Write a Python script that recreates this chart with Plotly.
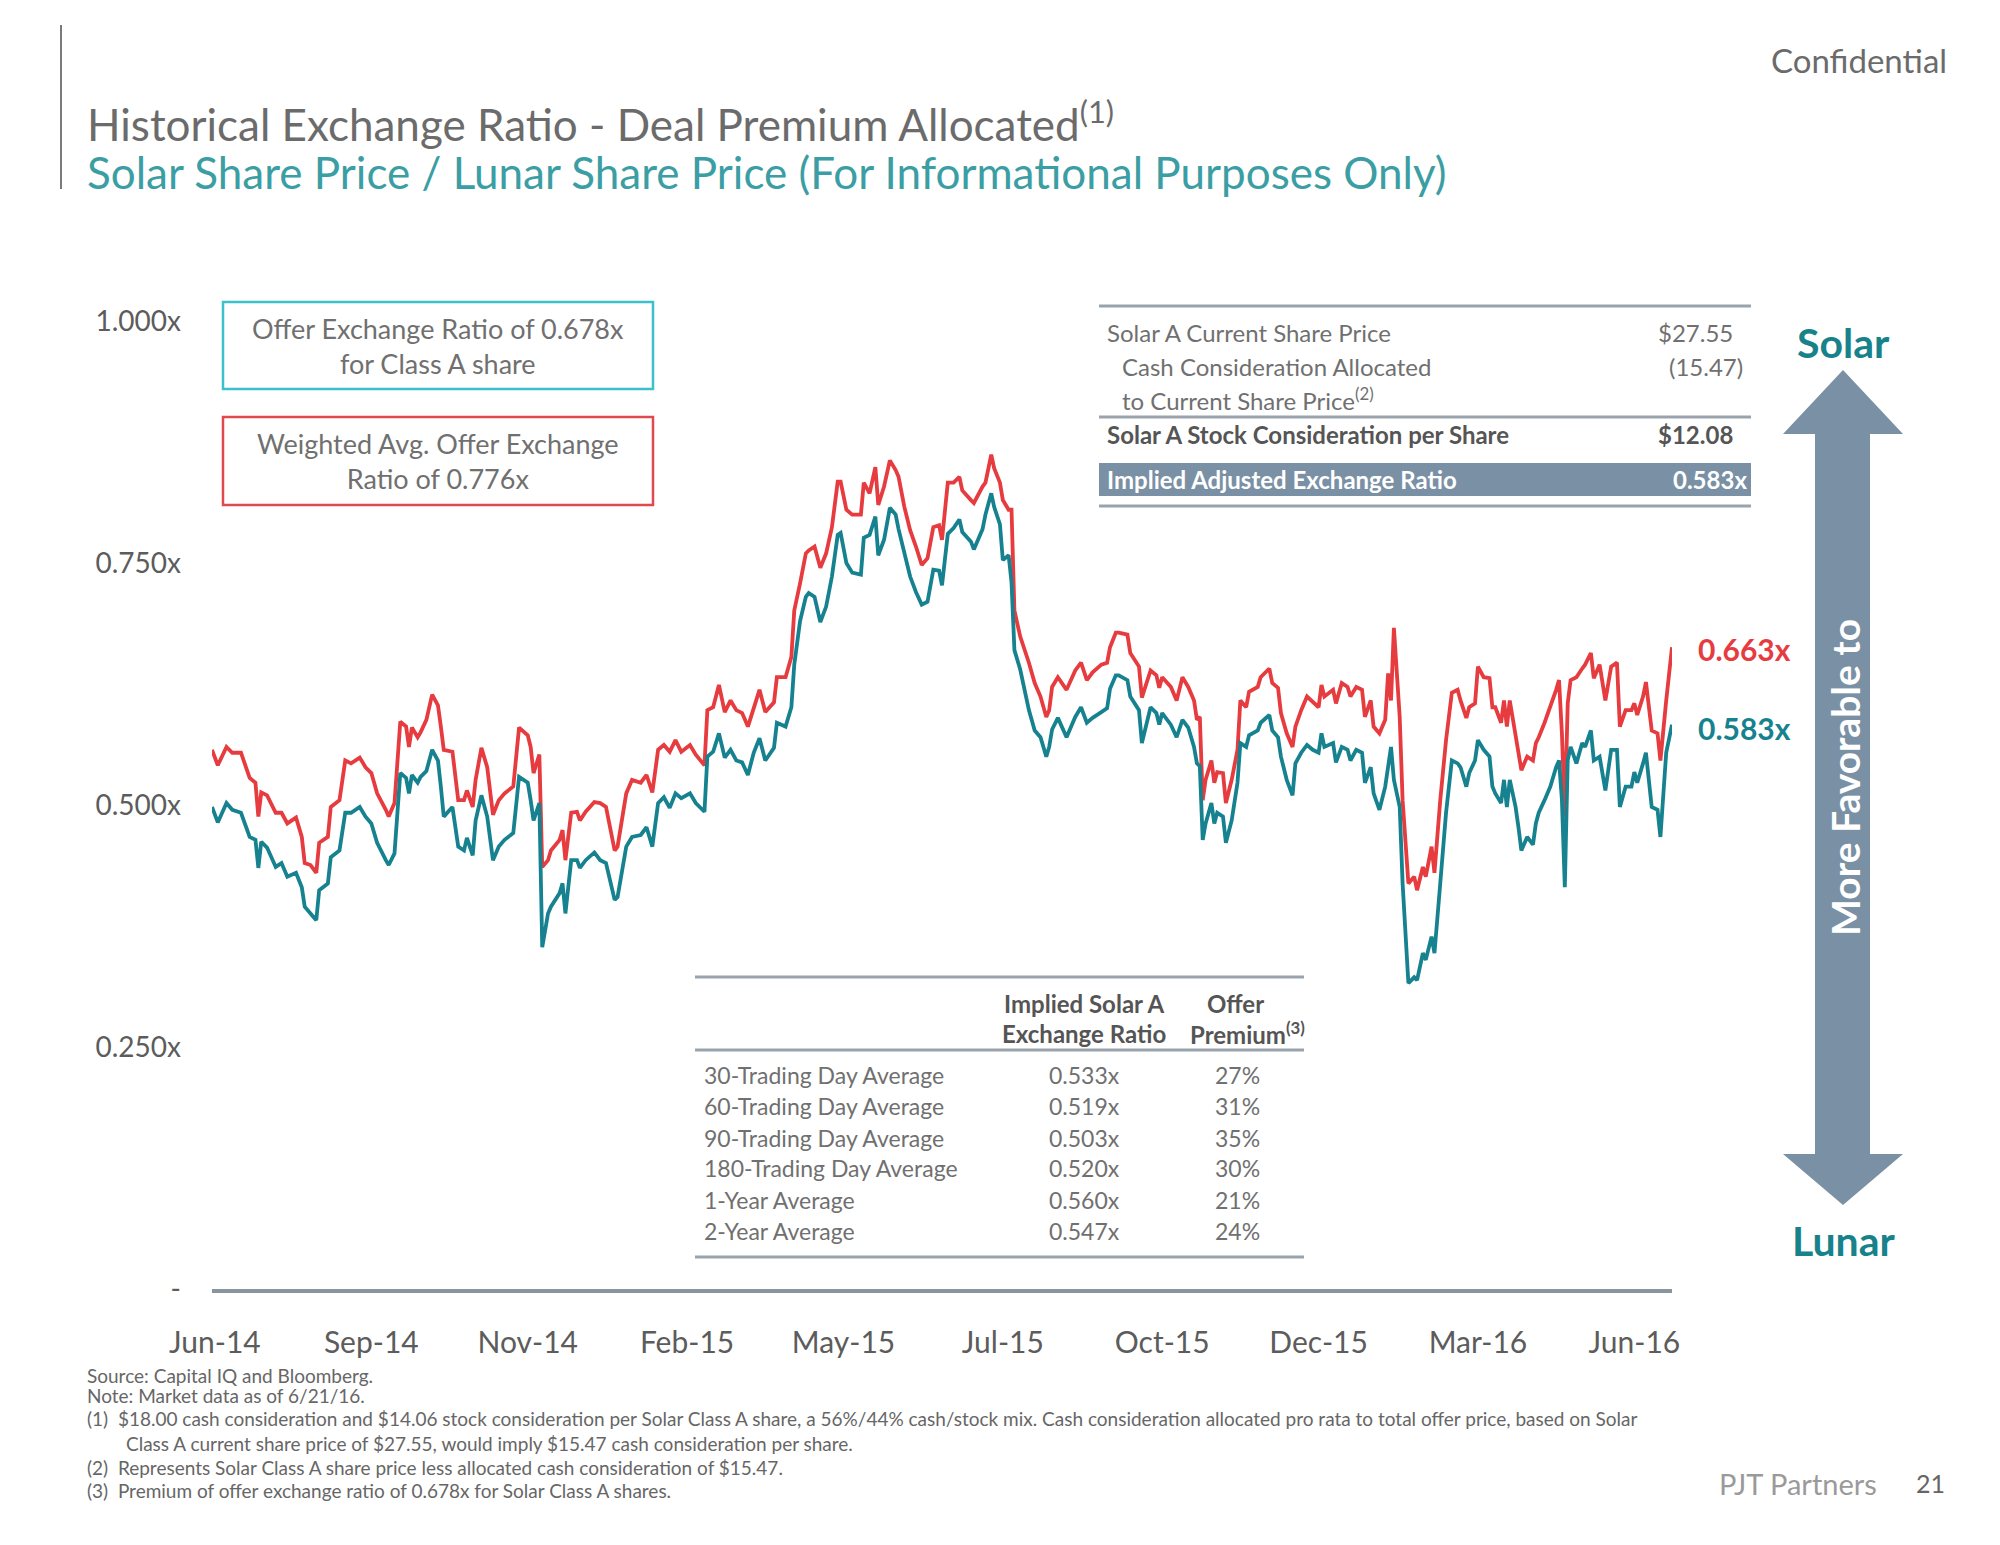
import plotly.graph_objects as go

# ---------------- data ----------------
day = [0, 2, 5, 7, 10, 13, 15, 16, 17, 19, 22, 24, 26, 29, 31, 32, 34, 36, 37, 40,
       41, 44, 46, 48, 51, 53, 55, 57, 60, 61, 63, 65, 67, 68, 69, 71, 72, 74, 76, 78,
       79, 80, 83, 85, 87, 88, 90, 91, 93, 95, 97, 99, 101, 104, 106, 109, 110, 111, 113, 114,
       116, 117, 120, 121, 122, 124, 126, 127, 129, 132, 134, 136, 139, 140, 143, 145, 148, 150, 152, 154,
       156, 158, 160, 162, 165, 167, 170, 171, 173, 175, 177, 179, 181, 183, 185, 187, 189, 191, 194, 195,
       198, 200, 201, 203, 205, 206, 208, 210, 212, 214, 216, 217, 219, 221, 224, 225, 227, 229, 230, 232,
       234, 236, 237, 239, 241, 243, 245, 247, 249, 251, 252, 254, 256, 258, 259, 262, 263, 266, 267, 269,
       270, 272, 273, 275, 276, 277, 279, 282, 284, 286, 288, 289, 290, 292, 295, 298, 300, 302, 304, 307,
       309, 310, 312, 313, 316, 317, 320, 321, 324, 326, 327, 328, 331, 333, 335, 337, 339, 340, 341, 342,
       343, 345, 346, 347, 349, 350, 352, 354, 355, 357, 358, 361, 362, 365, 366, 368, 369, 371, 373, 374,
       376, 378, 380, 382, 383, 384, 387, 388, 390, 392, 393, 395, 397, 398, 400, 401, 403, 405, 406, 407,
       408, 410, 411, 413, 415, 416, 418, 419, 421, 422, 424, 426, 428, 430, 431, 433, 434, 436, 437, 439,
       441, 442, 443, 445, 446, 447, 448, 450, 451, 452, 454, 456, 457, 458, 460, 462, 464, 465, 466, 467,
       468, 469, 471, 473, 474, 476, 477, 479, 481, 483, 485, 486, 488, 490, 491, 492, 494, 495, 497, 499,
       500, 502, 504]

premium_allocated = [
    .557, .541, .560, .554, .554, .528, .523, .488, .513, .510, .492, .492, .481, .487, .467, .440, .438, .430, .461, .467,
    .498, .505, .546, .543, .549, .539, .533, .512, .495, .488, .502, .586, .581, .560, .580, .570, .575, .588, .614, .603,
    .581, .557, .555, .505, .505, .515, .498, .526, .559, .539, .490, .505, .512, .519, .580, .572, .560, .533, .552, .436,
    .443, .453, .464, .474, .443, .492, .493, .484, .493, .503, .502, .498, .453, .457, .512, .526, .523, .531, .513, .557,
    .562, .555, .567, .555, .562, .552, .541, .598, .601, .624, .596, .608, .598, .595, .581, .601, .619, .596, .606, .632,
    .632, .653, .701, .729, .760, .763, .767, .745, .760, .787, .834, .834, .805, .800, .800, .833, .822, .849, .810, .829,
    .856, .846, .839, .808, .784, .767, .748, .755, .787, .789, .774, .833, .833, .839, .825, .815, .812, .829, .833, .862,
    .848, .833, .815, .805, .805, .701, .674, .647, .626, .612, .591, .598, .622, .632, .619, .639, .647, .629, .637, .645,
    .647, .663, .678, .678, .676, .657, .643, .611, .639, .634, .621, .632, .622, .608, .632, .622, .608, .588, .591, .505,
    .526, .546, .523, .534, .533, .502, .526, .557, .608, .601, .617, .622, .632, .641, .626, .621, .595, .574, .560, .581,
    .598, .612, .606, .601, .624, .612, .619, .605, .626, .622, .612, .622, .619, .591, .608, .581, .574, .588, .636, .608,
    .683, .591, .505, .419, .426, .412, .436, .426, .457, .430, .505, .567, .616, .619, .608, .590, .601, .605, .643, .632,
    .631, .601, .601, .585, .608, .581, .608, .574, .554, .536, .550, .546, .564, .570, .585, .601, .619, .629, .574, .488,
    .605, .629, .632, .641, .645, .657, .631, .645, .608, .643, .647, .581, .598, .598, .605, .593, .612, .627, .577, .574,
    .546, .608, .663]

adjusted_ratio = [
    .498, .482, .502, .495, .492, .467, .464, .435, .462, .456, .436, .440, .426, .430, .415, .395, .388, .381, .412, .419,
    .446, .453, .492, .492, .498, .488, .481, .461, .443, .438, .450, .533, .528, .512, .531, .523, .529, .535, .557, .546,
    .519, .488, .498, .457, .453, .466, .448, .484, .510, .488, .443, .457, .464, .471, .529, .523, .505, .484, .502, .353,
    .388, .395, .409, .419, .388, .443, .443, .435, .443, .451, .443, .440, .402, .405, .457, .467, .469, .477, .457, .502,
    .508, .497, .512, .507, .512, .502, .493, .550, .555, .574, .549, .557, .546, .544, .531, .554, .569, .546, .559, .585,
    .581, .601, .645, .690, .715, .719, .715, .689, .705, .736, .779, .781, .750, .740, .738, .776, .779, .798, .758, .774,
    .807, .800, .785, .760, .736, .720, .707, .710, .743, .742, .727, .780, .786, .795, .782, .772, .764, .785, .800, .822,
    .808, .790, .753, .758, .730, .660, .640, .598, .577, .570, .550, .560, .578, .590, .570, .591, .601, .585, .590, .596,
    .600, .620, .634, .634, .629, .612, .598, .564, .601, .595, .583, .595, .583, .570, .588, .580, .560, .543, .540, .464,
    .481, .502, .481, .492, .488, .461, .484, .523, .564, .560, .572, .577, .585, .593, .577, .570, .550, .526, .510, .543,
    .554, .562, .557, .554, .574, .560, .564, .544, .560, .557, .546, .557, .554, .523, .539, .512, .495, .519, .539, .560,
    .526, .498, .419, .316, .322, .319, .347, .340, .364, .347, .419, .492, .546, .543, .539, .519, .533, .546, .567, .557,
    .550, .519, .512, .502, .526, .498, .526, .498, .477, .453, .467, .459, .481, .492, .505, .519, .539, .546, .505, .415,
    .546, .560, .543, .564, .560, .577, .546, .550, .515, .557, .557, .498, .519, .519, .534, .523, .543, .554, .498, .495,
    .467, .554, .583]

tick_days = [1, 55, 109, 164, 218, 273, 328, 382, 437, 491]
tick_labels = ["Jun-14", "Sep-14", "Nov-14", "Feb-15", "May-15", "Jul-15", "Oct-15", "Dec-15", "Mar-16", "Jun-16"]

y_ticks = [0, 0.25, 0.5, 0.75, 1.0]
y_tick_labels = ["-", "0.250x", "0.500x", "0.750x", "1.000x"]

top_rows = ["Solar A Current Share Price", "Cash Consideration Allocated", "to Current Share Price<sup>(2)</sup>"]
top_vals = ["$27.55", "(15.47)", ""]
stock_label, stock_val = "Solar A Stock Consideration per Share", "$12.08"
implied_label, implied_val = "Implied Adjusted Exchange Ratio", "0.583x"

avg_labels = ["30-Trading Day Average", "60-Trading Day Average", "90-Trading Day Average",
              "180-Trading Day Average", "1-Year Average", "2-Year Average"]
avg_ratio = ["0.533x", "0.519x", "0.503x", "0.520x", "0.560x", "0.547x"]
avg_premium = ["27%", "31%", "35%", "30%", "21%", "24%"]

footnotes = [
    "Source: Capital IQ and Bloomberg.",
    "Note: Market data as of 6/21/16.",
    "(1)  $18.00 cash consideration and $14.06 stock consideration per Solar Class A share, a 56%/44% cash/stock mix. Cash consideration allocated pro rata to total offer price, based on Solar",
    "Class A current share price of $27.55, would imply $15.47 cash consideration per share.",
    "(2)  Represents Solar Class A share price less allocated cash consideration of $15.47.",
    "(3)  Premium of offer exchange ratio of 0.678x for Solar Class A shares.",
]

# ---------------- styling / layout helpers ----------------
W, H = 2000, 1545
L, R, T, B = 212, 1672, 321, 1289   # plot area in page pixels
OFF = 8                             # default body margin of the html page
RED = "#e63b3f"
TEAL = "#16828f"
GRAY = "#6b6b6b"
TXT = "#707070"
SLATE = "#7a90a5"
FONT = "Lato"


def px(x):
    return (x - L) / (R - L)


def py(y):
    return (B - y) / (B - T)


fig = go.Figure()
fig.add_trace(go.Scatter(x=day, y=premium_allocated, mode="lines",
                         line=dict(color=RED, width=3.8), hoverinfo="skip"))
fig.add_trace(go.Scatter(x=day, y=adjusted_ratio, mode="lines",
                         line=dict(color=TEAL, width=3.8), hoverinfo="skip"))

shapes = []
ann = []


def text(x, y, s, size, color=TXT, xanchor="left", yanchor="middle", angle=0, bold=False):
    if bold:
        s = "<b>" + s + "</b>"
    ann.append(dict(x=px(x), y=py(y), xref="paper", yref="paper", text=s, showarrow=False,
                    xanchor=xanchor, yanchor=yanchor, textangle=angle,
                    font=dict(family=FONT, size=size, color=color)))


def hline(x0, x1, y, color="#9aa3ab", width=3):
    shapes.append(dict(type="line", xref="paper", yref="paper", x0=px(x0), x1=px(x1),
                       y0=py(y), y1=py(y), line=dict(color=color, width=width)))


def rect(x0, y0, x1, y1, line_color=None, fill=None, width=2.5):
    shapes.append(dict(type="rect", xref="paper", yref="paper", x0=px(x0), x1=px(x1),
                       y0=py(y1), y1=py(y0),
                       line=dict(color=line_color or "rgba(0,0,0,0)", width=width if line_color else 0),
                       fillcolor=fill or "rgba(0,0,0,0)"))


# header
shapes.append(dict(type="line", xref="paper", yref="paper", x0=px(61), x1=px(61),
                   y0=py(25), y1=py(189), line=dict(color="#7a7a7a", width=2)))
text(85, 121, "Historical Exchange Ratio - Deal Premium Allocated<sup>(1)</sup>", 44, GRAY)
text(85, 172, "Solar Share Price / Lunar Share Price (For Informational Purposes Only)", 44, "#3b9ea4")
text(1949, 60, "Confidential", 33, GRAY, xanchor="right")

# offer boxes
rect(223, 302, 653, 389, line_color="#3cc0cc")
text(438, 346, "Offer Exchange Ratio of 0.678x<br>for Class A share", 27, TXT, xanchor="center")
rect(223, 417, 653, 505, line_color="#e04a4f")
text(438, 461, "Weighted Avg. Offer Exchange<br>Ratio of 0.776x", 27, TXT, xanchor="center")

# top-right table
hline(1099, 1751, 306)
row_y = [333, 366, 399]
row_x = [1105, 1120, 1120]
for lab, val, yy, xx in zip(top_rows, top_vals, row_y, row_x):
    text(xx, yy, lab, 24, TXT)
    if val:
        text(1745 if val.startswith("(") else 1735, yy, val, 24, TXT, xanchor="right")
hline(1099, 1751, 417)
text(1105, 434, stock_label, 24, "#555555", bold=True)
text(1735, 434, stock_val, 24, "#555555", xanchor="right", bold=True)
rect(1099, 463, 1751, 496, fill=SLATE)
text(1105, 479.5, implied_label, 24, "white", bold=True)
text(1749, 479.5, implied_val, 24, "white", xanchor="right", bold=True)
hline(1099, 1751, 506)

# right double arrow
sx0, sx1, hx0, hx1, cx = 1815, 1870, 1783, 1903, 1843
ytop, yhead1, yhead2, ybot = 370, 434, 1154, 1205
path = (f"M {px(cx)},{py(ytop)} L {px(hx1)},{py(yhead1)} L {px(sx1)},{py(yhead1)} "
        f"L {px(sx1)},{py(yhead2)} L {px(hx1)},{py(yhead2)} L {px(cx)},{py(ybot)} "
        f"L {px(hx0)},{py(yhead2)} L {px(sx0)},{py(yhead2)} L {px(sx0)},{py(yhead1)} "
        f"L {px(hx0)},{py(yhead1)} Z")
shapes.append(dict(type="path", xref="paper", yref="paper", path=path,
                   fillcolor=SLATE, line=dict(width=0)))
text(1845, 778, "More Favorable to", 39, "white", xanchor="center", angle=-90, bold=True)
text(1843, 342, "Solar", 41, "#17828a", xanchor="center", bold=True)
text(1843, 1240, "Lunar", 41, "#17828a", xanchor="center", bold=True)

# end labels
text(1696, 649, f"{premium_allocated[-1]:.3f}x", 30, RED, bold=True)
text(1696, 728, f"{adjusted_ratio[-1]:.3f}x", 30, TEAL, bold=True)

# bottom table
hline(695, 1304, 977)
text(1084, 1003, "Implied Solar A", 24, "#555555", xanchor="center", bold=True)
text(1084, 1033, "Exchange Ratio", 24, "#555555", xanchor="center", bold=True)
text(1235, 1003, "Offer", 24, "#555555", xanchor="center", bold=True)
text(1247, 1033, "Premium<sup>(3)</sup>", 24, "#555555", xanchor="center", bold=True)
hline(695, 1304, 1050)
avg_y = [1075, 1106, 1138, 1168, 1200, 1231]
for lab, r, p, yy in zip(avg_labels, avg_ratio, avg_premium, avg_y):
    text(702, yy, lab, 23, TXT)
    text(1084, yy, r, 23, TXT, xanchor="center")
    text(1237, yy, p, 23, TXT, xanchor="center")
hline(695, 1304, 1257)

# footnotes
foot_y = [1375, 1395, 1418, 1443, 1467, 1490]
foot_x = [85, 85, 85, 124, 85, 85]
for s, yy, xx in zip(footnotes, foot_y, foot_x):
    text(xx, yy, s, 19, "#666666")
text(1798, 1483, "PJT Partners", 29, "#9a9a9a", xanchor="center")
text(1930, 1483, "21", 25, "#666666", xanchor="center")

fig.update_layout(
    width=W, height=H, autosize=False,
    margin=dict(l=L - OFF, r=W - R + OFF, t=T - OFF, b=H - B + OFF, pad=0),
    paper_bgcolor="white", plot_bgcolor="white",
    showlegend=False,
    shapes=shapes, annotations=ann,
    font=dict(family=FONT, color=TXT),
    xaxis=dict(range=[0, 504], tickmode="array", tickvals=tick_days, ticktext=tick_labels,
               showgrid=False, zeroline=False, showline=True, linecolor="#8a949c", linewidth=4,
               ticks="", ticklabelstandoff=24,
               tickfont=dict(family=FONT, size=30, color="#5c5c5c")),
    yaxis=dict(range=[0, 1.0], tickmode="array", tickvals=y_ticks, ticktext=y_tick_labels,
               showgrid=False, zeroline=False, showline=False, ticks="",
               ticklabelstandoff=30,
               tickfont=dict(family=FONT, size=28, color="#5c5c5c")),
)

fig.write_html("out.html")
